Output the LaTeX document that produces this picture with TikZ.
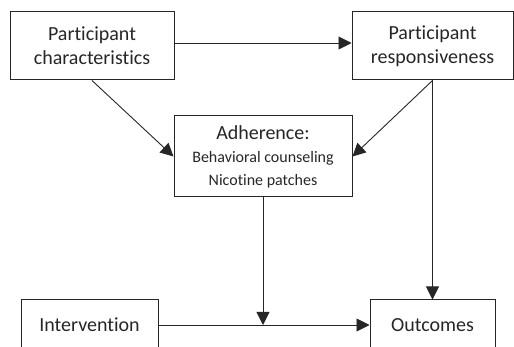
\documentclass[tikz,border=0pt]{standalone}
\usepackage{fontspec}
\setmainfont{Carlito}[Ligatures = NoCommon]
\usetikzlibrary{arrows.meta}

\begin{document}
\begin{tikzpicture}[x=1pt, y=-1pt,
box/.style = {draw = black!85, line width = 1pt, align = center, inner sep = 0pt,
	font = \fontsize{20}{24}\selectfont, text = black!85},
arr/.style = {-{Triangle[length = 13pt, width = 13pt]}, line width = 0.9pt, draw = black!85}
]
\useasboundingbox (0,0) rectangle (514,347);
\clip (0,0) rectangle (514,347);

% cajas
\node[box, minimum width = 164pt, minimum height = 68pt] (char) at (92,46) {Participant\\characteristics};
\node[box, minimum width = 161pt, minimum height = 68pt] (resp) at (432.5,46) {Participant\\responsiveness};
\node[box, minimum width = 178pt, minimum height = 81pt] (adh) at (263,156.5)
	{Adherence:\\[-1pt]{\fontsize{16}{18}\selectfont Behavioral counseling}\\[-1pt]{\fontsize{16}{18}\selectfont Nicotine patches}};
\node[box, minimum width = 137pt, minimum height = 50pt] (interv) at (89.5,325) {Intervention};
\node[box, minimum width = 125pt, minimum height = 50pt] (outc) at (432.5,325) {Outcomes};

% flechas
\coordinate (mid) at (adh.south |- interv.east);
\draw[arr] ([yshift = 3pt]char.east) -- ([yshift = 3pt]resp.west);
\draw[arr] (char.south) -- (adh.west);
\draw[arr] (resp.south) -- (adh.east);
\draw[arr] (resp.south) -- (outc.north);
\draw[arr] (adh.south) -- (mid);
\draw[arr] (interv.east) -- (outc.west);
\end{tikzpicture}
\end{document}
